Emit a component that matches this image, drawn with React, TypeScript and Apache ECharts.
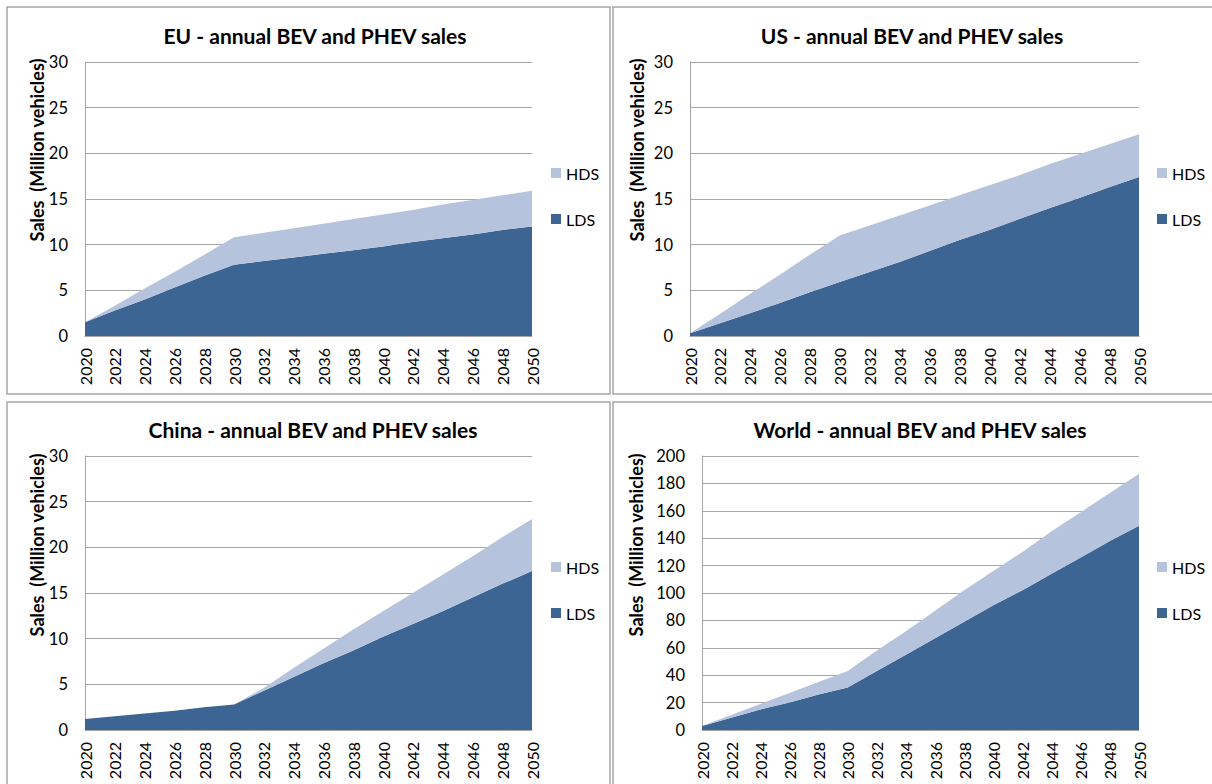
import React, { useEffect, useRef } from "react";
import * as echarts from "echarts";

const years = ["2020","2022","2024","2026","2028","2030","2032","2034","2036","2038","2040","2042","2044","2046","2048","2050"];

const euLDS = [1.5, 2.8, 4.0, 5.3, 6.6, 7.8, 8.2, 8.6, 9.0, 9.4, 9.8, 10.3, 10.7, 11.1, 11.6, 12.0];
const euHDS = [0, 0.5, 1.2, 1.7, 2.3, 3.0, 3.1, 3.2, 3.3, 3.4, 3.5, 3.5, 3.7, 3.8, 3.8, 3.9];

const usLDS = [0.3, 1.4, 2.5, 3.6, 4.8, 5.9, 7.0, 8.1, 9.3, 10.5, 11.6, 12.8, 14.0, 15.1, 16.3, 17.4];
const usHDS = [0, 1.0, 2.1, 3.1, 4.1, 5.1, 5.1, 5.1, 5.0, 4.9, 4.9, 4.8, 4.8, 4.8, 4.7, 4.7];

const cnLDS = [1.2, 1.5, 1.8, 2.1, 2.5, 2.8, 4.3, 5.8, 7.3, 8.7, 10.2, 11.6, 13.0, 14.5, 16.0, 17.4];
const cnHDS = [0, 0, 0, 0, 0, 0, 0.3, 1.0, 1.6, 2.3, 2.8, 3.4, 4.0, 4.5, 5.1, 5.7];

const wdLDS = [3, 9, 15, 20, 26, 31, 43, 55, 67, 79, 91, 102, 114, 126, 138, 149];
const wdHDS = [0, 2, 4, 7, 9, 12, 15, 17, 20, 23, 25, 28, 31, 33, 35, 38];

const titles = [
  "EU - annual BEV and PHEV sales",
  "US - annual BEV and PHEV sales",
  "China - annual BEV and PHEV sales",
  "World - annual BEV and PHEV sales",
];
const yMax = [30, 30, 30, 200];
const yInterval = [5, 5, 5, 20];
const yName = "Sales  (Million vehicles)";

const LDS_COLOR = "#3d6594";
const HDS_COLOR = "#b5c3dc";
const FONT = "Lato, 'Open Sans', sans-serif";

export default function App() {
  const ref = useRef<HTMLDivElement>(null);
  useEffect(() => {
    if (!ref.current) return;
    const chart = echarts.init(ref.current, undefined, { renderer: "svg" });

    const grids = [
      { left: 85, top: 62, width: 447, height: 274 },
      { left: 690, top: 62, width: 449, height: 274 },
      { left: 85, top: 456, width: 447, height: 274 },
      { left: 702, top: 456, width: 437, height: 274 },
    ];
    const namePos = [
      { x: 37, y: 150 },
      { x: 637, y: 150 },
      { x: 37, y: 545 },
      { x: 636, y: 545 },
    ];
    const titleCenters = [310, 907, 308, 915];
    const titleTops = [20, 20, 414, 414];
    const legendPos = [
      { left: 546, top: 160 },
      { left: 1152, top: 160 },
      { left: 546, top: 554 },
      { left: 1152, top: 554 },
    ];
    const data: [number[], number[]][] = [
      [euLDS, euHDS],
      [usLDS, usHDS],
      [cnLDS, cnHDS],
      [wdLDS, wdHDS],
    ];

    const xAxis = grids.map((_, i) => ({
      type: "category",
      gridIndex: i,
      data: years,
      boundaryGap: false,
      axisLine: { show: true, lineStyle: { color: "#a6a6a6", width: 1 } },
      axisTick: { show: false },
      axisLabel: {
        rotate: 90,
        interval: 0,
        fontSize: 16,
        fontFamily: FONT,
        color: "#000",
        margin: 12,
      },
      splitLine: { show: false },
    }));

    const yAxis = grids.map((_, i) => ({
      type: "value",
      gridIndex: i,
      min: 0,
      max: yMax[i],
      interval: yInterval[i],
      axisLine: { show: true, lineStyle: { color: "#a6a6a6", width: 1 } },
      axisTick: { show: false },
      axisLabel: { fontSize: 16.5, fontFamily: FONT, color: "#000", margin: 17 },
      splitLine: { show: true, lineStyle: { color: "#a6a6a6", width: 1 } },
    }));

    const series: any[] = [];
    data.forEach(([lds, hds], i) => {
      series.push({
        name: "LDS",
        type: "line",
        xAxisIndex: i,
        yAxisIndex: i,
        stack: "s" + i,
        data: lds,
        symbol: "none",
        lineStyle: { width: 0, color: LDS_COLOR },
        itemStyle: { color: LDS_COLOR },
        areaStyle: { color: LDS_COLOR, opacity: 1 },
      });
      series.push({
        name: "HDS",
        type: "line",
        xAxisIndex: i,
        yAxisIndex: i,
        stack: "s" + i,
        data: hds,
        symbol: "none",
        lineStyle: { width: 0, color: HDS_COLOR },
        itemStyle: { color: HDS_COLOR },
        areaStyle: { color: HDS_COLOR, opacity: 1 },
      });
    });

    const legend = legendPos.map((p) => ({
      orient: "vertical",
      left: p.left,
      top: p.top,
      data: ["HDS", "LDS"],
      icon: "rect",
      itemWidth: 10,
      itemHeight: 10,
      itemGap: 30,
      textStyle: { fontSize: 16, fontFamily: FONT, color: "#000" },
      selectedMode: false,
    }));

    const title = titles.map((t, i) => ({
      text: t,
      left: titleCenters[i],
      top: titleTops[i],
      textAlign: "center",
      textStyle: { fontSize: 21, fontWeight: "bold", fontFamily: FONT, color: "#000" },
    }));

    const borders = [
      { x: 7, y: 7, w: 603, h: 387 },
      { x: 613, y: 7, w: 610, h: 387 },
      { x: 7, y: 402, w: 603, h: 400 },
      { x: 613, y: 402, w: 610, h: 400 },
    ];

    const graphic: any[] = borders.map((b) => ({
      type: "rect",
      shape: { x: b.x, y: b.y, width: b.w, height: b.h },
      style: { fill: "none", stroke: "#a6a6a6", lineWidth: 1.5 },
      z: 100,
      silent: true,
    }));
    namePos.forEach((p) => {
      graphic.push({
        type: "text",
        x: p.x,
        y: p.y,
        rotation: Math.PI / 2,
        style: {
          text: yName,
          font: `bold 18px ${FONT}`,
          fill: "#000",
          align: "center",
          verticalAlign: "middle",
        },
        silent: true,
      });
    });

    chart.setOption({
      animation: false,
      backgroundColor: "#fff",
      title,
      legend,
      grid: grids.map((g) => ({ ...g, containLabel: false })),
      xAxis,
      yAxis,
      series,
      graphic,
    });
    return () => chart.dispose();
  }, []);
  return (
    <div
      ref={ref}
      style={{ position: "fixed", left: 0, top: 0, width: 1212, height: 784 }}
    />
  );
}
